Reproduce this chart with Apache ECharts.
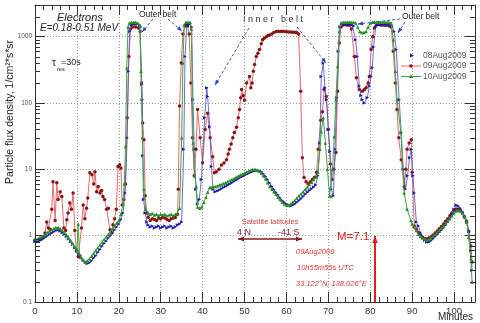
<!DOCTYPE html>
<html><head><meta charset="utf-8">
<script src="https://cdn.jsdelivr.net/npm/echarts@6/dist/echarts.min.js"></script>
<style>html,body{margin:0;padding:0;background:#fff}#c{width:480px;height:323px}</style>
</head><body><div id="c"></div>
<script>
// ---- data: [minutes, flux] ----
const flux08Aug = [[0,0.82],[0.5,0.8],[1,0.84],[1.5,0.86],[2,0.9],[2.5,0.95],[3,1.0],[3.5,1.05],[4,1.1],[4.5,1.15],[5,1.2],[5.5,1.22],[6,1.18],[6.5,1.12],[7,1.05],[7.5,0.98],[8,0.9],[8.5,0.82],[9,0.74],[9.5,0.66],[10,0.58],[10.5,0.52],[11,0.47],[11.5,0.43],[12,0.4],[12.5,0.38],[13,0.39],[13.5,0.42],[14,0.46],[14.5,0.5],[15,0.56],[15.5,0.62],[16,0.69],[16.5,0.76],[17,0.83],[17.5,0.92],[18,1.0],[18.5,1.1],[19,1.22],[19.5,1.35],[20,1.5],[20.5,1.75],[21,2.2],[21.5,4.4],[22,30],[22.3,300],[22.6,1200],[23,1500],[23.5,1550],[24,1550],[24.5,1550],[25,1500],[25.2,1400],[25.5,190],[25.6,112],[25.7,16],[25.9,3.5],[26.3,2.2],[26.7,1.6],[27,1.45],[27.5,1.35],[28,1.4],[28.5,1.3],[29,1.35],[29.5,1.4],[30,1.3],[30.5,1.35],[31,1.4],[31.5,1.3],[32,1.35],[32.5,1.4],[33,1.3],[33.5,1.35],[34,1.45],[34.5,1.5],[35,1.6],[35.5,20],[35.8,500],[36.2,1500],[36.6,1550],[37,1550],[37.4,1400],[37.7,112],[38,20],[38.4,5],[38.8,3],[39.2,3.5],[39.7,7],[40.5,60],[41,170],[41.2,125],[41.7,44],[42.1,11],[42.5,5],[43,4.6],[43.5,4.7],[44,4.9],[44.5,5.1],[45,5.3],[45.5,5.5],[46,5.8],[46.5,6.0],[47,6.3],[47.5,6.6],[48,6.9],[48.5,7.2],[49,7.5],[49.5,7.8],[50,8.1],[50.5,8.4],[51,8.7],[51.5,9.0],[52,9.3],[52.5,9.5],[53,9.6],[53.5,9.5],[54,9.2],[54.5,8.6],[55,7.8],[55.5,7.0],[56,6.2],[56.5,5.5],[57,5.0],[57.5,4.5],[58,4.1],[58.5,3.7],[59,3.4],[59.5,3.2],[60,3.0],[60.5,2.9],[61,2.8],[61.5,2.9],[62,3.0],[62.5,3.2],[63,3.4],[63.5,3.6],[64,3.9],[64.5,4.2],[65,4.5],[65.5,4.8],[66,5.1],[66.5,5.4],[67,5.8],[67.5,8],[68,25],[68.3,250],[68.8,400],[69.2,170],[69.6,112],[70,40],[70.4,18.5],[70.7,5],[71.2,4],[71.6,20],[72,120],[72.4,600],[72.8,1400],[73.2,1550],[73.7,1500],[74.2,1550],[74.7,1500],[75.2,1550],[75.7,1500],[76.1,1450],[76.5,900],[76.9,500],[77.4,180],[77.8,130],[78.1,112],[78.6,100],[79.3,120],[79.8,180],[80.2,250],[80.5,340],[80.8,700],[81.3,1400],[81.7,1500],[82.2,1550],[82.7,1500],[83.2,1550],[83.7,1500],[84.2,1550],[84.7,1500],[85.2,1450],[85.7,1200],[86.2,640],[86.9,112],[87.4,36],[87.9,10],[88.4,5],[88.9,8],[89.4,15],[89.8,20],[90.2,8],[90.5,4.4],[91,1.6],[91.5,1.4],[92,1.1],[92.5,0.95],[93,0.85],[93.5,0.8],[94,0.8],[94.5,0.84],[95,0.9],[95.5,0.97],[96,1.05],[96.5,1.13],[97,1.22],[97.5,1.32],[98,1.45],[98.5,1.6],[99,1.8],[99.5,2.1],[100,2.5],[100.5,2.9],[101,2.8],[101.5,2.6],[102,2.3],[102.5,2.0],[103,1.7],[103.5,1.2],[104,0.6],[104.3,0.3]];

const flux09Aug = [[0,0.85],[0.5,0.83],[1,0.87],[1.5,0.9],[2,0.95],[2.4,1.1],[2.8,1.6],[3.2,1.3],[3.6,1.25],[4,2.5],[4.3,6.5],[4.8,1.7],[5.2,6.3],[5.5,3.5],[6,4.6],[6.4,3.9],[6.9,1.3],[7.3,1.2],[7.6,1.74],[7.9,2.2],[8.3,3.1],[8.7,2.5],[9.1,4.4],[9.5,1.2],[9.9,0.6],[10.3,0.48],[10.7,0.5],[11.1,1.3],[11.5,2.9],[11.9,1.8],[12.3,2.6],[12.6,3.7],[13.1,8.9],[13.6,8.3],[14,6],[14.3,9.2],[14.7,4.6],[15.1,5.5],[15.5,4.4],[15.9,4.8],[16.2,3.9],[16.6,3.5],[17.1,2.5],[17.5,2.6],[17.9,1.23],[18.3,1.1],[18.6,1.46],[19,1.8],[19.4,2.5],[19.8,11],[20.2,11.7],[20.5,10.5],[20.8,2.9],[21.2,3.5],[21.6,6],[22,60],[22.4,500],[22.8,1300],[23.3,1400],[24,1400],[24.7,1350],[25.1,1200],[25.4,200],[25.7,50],[26,28],[26.3,4],[26.7,2.2],[27,1.9],[27.5,1.7],[28,1.8],[28.5,1.75],[29,1.7],[29.5,1.85],[30,1.8],[30.5,1.9],[31,1.85],[31.5,1.75],[32,1.7],[32.5,1.8],[33,1.85],[33.5,1.9],[34,2.1],[34.2,5],[34.5,90],[34.9,400],[35.3,1100],[35.8,1450],[36.4,1450],[36.8,1100],[37.2,200],[37.6,30],[38,8],[38.4,20],[38.8,80],[39.4,30],[40,12.6],[40.6,40],[41.2,70],[41.8,30],[42.4,15.5],[42.8,8.9],[43.3,9.2],[43.9,10],[44.5,11.6],[45.1,12.5],[45.7,14],[46.1,17],[46.4,20],[46.8,24],[47.2,30],[47.6,36],[48.1,43],[48.5,60],[48.8,80],[49.1,120],[49.3,160],[49.7,130],[50,110],[50.5,200],[51.2,250],[51.5,170],[51.8,200],[52.1,300],[52.4,380],[52.8,500],[53.2,560],[53.6,640],[54,780],[54.3,900],[54.7,950],[55.2,1000],[55.6,1040],[56,1060],[56.5,1100],[57,1150],[57.6,1200],[58,1210],[58.5,1200],[59,1210],[59.5,1200],[60,1190],[60.5,1180],[61,1180],[61.5,1170],[62,1160],[62.4,1150],[62.9,1100],[63.4,150],[63.8,15],[64.2,7.5],[64.7,6.5],[65.2,6],[65.7,6.5],[66.2,7],[66.7,7.5],[67.2,9],[67.6,20],[68.2,55],[68.6,74],[69,160],[69.5,125],[70,40],[70.5,12],[70.9,7],[71.3,10],[71.8,18],[72.2,150],[72.6,800],[73,1400],[73.5,1500],[74,1520],[74.5,1500],[75,1480],[75.5,1300],[76.2,500],[76.7,240],[77.4,160],[78.1,150],[78.6,160],[79,170],[79.5,200],[79.8,250],[80.2,640],[80.6,1000],[81,1350],[81.5,1500],[82,1520],[82.5,1500],[83,1500],[83.5,1480],[84,1500],[84.5,1450],[85,1400],[85.5,600],[86,200],[86.4,80],[86.8,30],[87.4,14],[88.1,5.5],[88.5,10],[88.8,20],[89.3,25],[89.8,28],[90,9],[90.5,1.4],[91,1.25],[91.5,1.12],[92,1.02],[92.5,0.95],[93,0.9],[93.5,0.9],[94,0.92],[94.5,0.96],[95,1.02],[95.5,1.1],[96,1.18],[96.5,1.27],[97,1.37],[97.5,1.5],[98,1.65],[98.5,1.8],[99,2.0],[99.5,2.2],[100,2.4],[100.5,2.5],[101,2.5],[101.5,2.4],[102,2.2],[102.5,1.9],[103,1.6],[103.5,1.15],[104,0.7],[104.3,0.4]];

const flux10Aug = [[0,0.9],[0.5,0.88],[1,0.93],[1.5,0.96],[2,1.0],[2.5,1.06],[3,1.12],[3.5,1.18],[4,1.24],[4.5,1.28],[5,1.32],[5.5,1.33],[6,1.28],[6.5,1.2],[7,1.12],[7.5,1.03],[8,0.94],[8.5,0.85],[9,0.77],[9.5,0.68],[10,0.6],[10.3,1.5],[10.6,0.53],[11,0.47],[11.5,0.43],[12,0.4],[12.5,0.42],[13,0.45],[13.5,0.49],[14,0.54],[14.5,0.6],[15,0.66],[15.5,0.73],[16,0.8],[16.5,0.88],[17,0.96],[17.5,1.05],[18,1.15],[18.5,1.27],[19,1.4],[19.5,1.55],[20,1.7],[20.5,2.1],[21,3.0],[21.3,6],[21.6,22],[21.9,340],[22.2,1400],[22.5,1600],[23,1650],[23.5,1650],[24,1650],[24.5,1600],[25,1500],[25.3,300],[25.6,30],[26,5],[26.4,2.5],[27,2.2],[27.5,2.1],[28,2.15],[28.5,2.05],[29,2.1],[29.5,2.0],[30,2.1],[30.5,2.05],[31,2.1],[31.5,2.0],[32,2.05],[32.5,2.1],[33,2.0],[33.5,2.1],[34,2.2],[34.5,2.6],[35,30],[35.3,400],[35.6,1500],[36,1650],[36.5,1650],[37,1650],[37.3,1300],[37.7,25],[38.1,8],[38.5,5.5],[38.8,2.7],[39.3,2.6],[39.8,2.7],[40.3,3.2],[40.8,3.8],[41.2,4.5],[41.7,5.3],[42,5.3],[42.5,5.4],[43,5.5],[43.5,5.6],[44,5.8],[44.5,5.9],[45,6.1],[45.5,6.3],[46,6.5],[46.5,6.8],[47,7.0],[47.5,7.3],[48,7.6],[48.5,7.9],[49,8.2],[49.5,8.5],[50,8.8],[50.5,9.1],[51,9.4],[51.5,9.7],[52,9.9],[52.5,10.0],[53,9.8],[53.5,9.4],[54,8.8],[54.5,8.0],[55,7.2],[55.5,6.3],[56,5.5],[56.5,5.0],[57,4.6],[57.5,4.2],[58,3.8],[58.5,3.5],[59,3.2],[59.5,3.0],[60,2.9],[60.5,2.9],[61,3.0],[61.5,3.2],[62,3.4],[62.5,3.7],[63,4.0],[63.5,4.3],[64,4.6],[64.5,5.0],[65,5.4],[65.5,5.9],[66,6.4],[66.5,7.0],[67,7.6],[67.5,9],[68,20],[68.3,37],[68.8,60],[69.3,25],[69.8,10],[70.3,4],[70.6,3.9],[71,10],[71.4,31],[71.8,112],[72.2,355],[72.6,1200],[73,1600],[73.5,1650],[74,1650],[74.5,1650],[75,1650],[75.5,1650],[76,1650],[76.5,1600],[77,1400],[77.5,1200],[78,1150],[78.5,1150],[79,1200],[79.5,1400],[80,1600],[80.5,1650],[81,1650],[81.5,1650],[82,1650],[82.5,1650],[83,1650],[83.5,1650],[84,1650],[84.5,1650],[85,1600],[85.5,900],[86,300],[86.4,112],[87.3,36],[88.1,4.4],[88.8,2.5],[89.7,1.7],[90,1.5],[90.5,1.35],[91,1.2],[91.5,1.05],[92,0.97],[92.5,0.92],[93,0.88],[93.5,0.86],[94,0.88],[94.5,0.92],[95,0.98],[95.5,1.05],[96,1.12],[96.5,1.2],[97,1.3],[97.5,1.4],[98,1.52],[98.5,1.65],[99,1.8],[99.5,2.0],[100,2.2],[100.5,2.35],[101,2.4],[101.5,2.35],[102,2.2],[102.5,1.95],[103,1.6],[103.5,0.95],[104,0.45],[104.3,0.2]];

const seriesNames = ['08Aug2009', '09Aug2009', '10Aug2009'];
const xTicksMajor = [0,10,20,30,40,50,60,70,80,90,100];
const yTicksMajor = [0.1, 1, 10, 100, 1000];

// ---- styles ----
const FONT = 'Liberation Sans, Arial, sans-serif';
const C_BLUE = '#1c1ca8', C_BLUE_L = '#4646c8';
const C_RED = '#8b1414', C_RED_L = '#e66a6a';
const C_GREEN = '#2a8c2a', C_GREEN_L = '#3ca83c';
const AX = '#333';

// minor tick positions (axis decoration)
const yMinor = [];
yTicksMajor.forEach(d => { for (let k = 2; k <= 9; k++) { const v = k * d; if (v <= 3000) yMinor.push([0, v]); } });
const xMinor = [];
for (let t = 2; t <= 104; t += 2) if (t % 10 !== 0) xMinor.push([t, 1]);

const chart = echarts.init(document.getElementById('c'), null, { renderer: 'canvas' });

function arrow(x1, y1, x2, y2, color, width, dash, head, both) {
  const els = [{ type: 'line', silent: true, z: 100,
    shape: { x1, y1, x2, y2 },
    style: { stroke: color, lineWidth: width, lineDash: dash || null } }];
  function headAt(ax, ay, bx, by) {
    const dx = bx - ax, dy = by - ay, L = Math.hypot(dx, dy);
    const ux = dx / L, uy = dy / L, nx = -uy, ny = ux;
    const baseX = bx - ux * head, baseY = by - uy * head;
    els.push({ type: 'polygon', silent: true, z: 101,
      shape: { points: [[bx, by], [baseX + nx * head * 0.4, baseY + ny * head * 0.4], [baseX - nx * head * 0.4, baseY - ny * head * 0.4]] },
      style: { fill: color } });
  }
  headAt(x1, y1, x2, y2);
  if (both) headAt(x2, y2, x1, y1);
  return els;
}
function txt(x, y, text, size, color, extra) {
  return Object.assign({ type: 'text', silent: true, z: 100, x, y,
    style: Object.assign({ text, fontSize: size, fill: color, fontFamily: FONT, verticalAlign: 'middle', align: 'left' }, (extra || {})) });
}

const graphics = [].concat(
  [txt(10, 112, 'Particle flux density, 1/cm²*s*sr', 10.5, '#222', { align: 'center' })].map(g => Object.assign(g, { rotation: Math.PI / 2 })),
  [
    txt(57, 18, 'Electrons', 11, '#222', { fontStyle: 'italic' }),
    txt(40, 28, 'E=0.18-0.51 MeV', 10, '#222', { fontStyle: 'italic' }),
    txt(52, 63, 'τ', 10, '#222'),
    txt(57, 69, 'res', 5.5, '#222'),
    txt(61, 63, '=30s', 9, '#222'),
    txt(139, 15, 'Outer belt', 8.5, '#222'),
    txt(243, 20, 'I n n e r   b e l t', 9, '#333'),
    txt(402, 17, 'Outer belt', 8.5, '#222'),
    txt(270, 222, 'Satellite latitudes', 7.5, '#d04040', { align: 'center' }),
    txt(237, 233, '4 N', 9, '#8b2020'),
    txt(278, 233, '-41 S', 9, '#8b2020'),
    txt(337, 237, 'M=7.1', 11.5, '#e02020'),
    txt(296, 252, '09Aug2009', 7.5, '#e03030', { fontStyle: 'italic' }),
    txt(297, 268, '10h55m55s UTC', 7.5, '#e03030', { fontStyle: 'italic' }),
    txt(296, 284, '33.122°N, 138.026°E', 7.5, '#e03030', { fontStyle: 'italic' }),
    txt(473, 317, 'Minutes', 10, '#222', { align: 'right' }),
    // legend
    txt(423, 55.5, seriesNames[0], 8.5, '#555'),
    txt(423, 66, seriesNames[1], 8.5, '#555'),
    txt(423, 76.5, seriesNames[2], 8.5, '#555'),
    { type: 'polygon', silent: true, z: 100, shape: { points: [[410, 53.5], [414, 55.5], [410, 57.5]] }, style: { fill: C_BLUE } },
    { type: 'line', silent: true, z: 100, shape: { x1: 401, y1: 66, x2: 421, y2: 66 }, style: { stroke: C_RED_L, lineWidth: 1 } },
    { type: 'circle', silent: true, z: 101, shape: { cx: 411, cy: 66, r: 1.8 }, style: { fill: C_RED } },
    { type: 'line', silent: true, z: 100, shape: { x1: 401, y1: 76.5, x2: 421, y2: 76.5 }, style: { stroke: C_GREEN_L, lineWidth: 1 } },
    { type: 'polygon', silent: true, z: 101, shape: { points: [[411, 74.5], [413, 78], [409, 78]] }, style: { fill: C_GREEN } }
  ],
  arrow(153, 19, 142, 32, '#2a3fb8', 0.9, [3, 2], 5),
  arrow(168, 19, 182, 31, '#2a3fb8', 0.9, [3, 2], 5),
  arrow(249, 28, 215, 85, '#2a3fb8', 0.9, [3, 2], 5),
  arrow(297, 27, 326, 63, '#2a3fb8', 0.9, [3, 2], 5),
  arrow(400, 19, 358, 24, '#2a3fb8', 0.9, [3, 2], 5),
  arrow(405, 22, 398, 33, '#2a3fb8', 0.9, [3, 2], 5),
  arrow(238, 239, 302, 239, '#8b1a1a', 1.5, null, 6, true),
  arrow(375, 302, 375, 236, '#e02020', 2, null, 7)
);

const lineBase = { type: 'line', showSymbol: true, animation: false, symbolSize: 3.5, clip: true };

chart.setOption({
  animation: false,
  backgroundColor: '#fff',
  grid: { left: 35, right: 5, top: 5, bottom: 21, containLabel: false },
  xAxis: [
    { type: 'value', min: 0, max: 105, interval: 10, position: 'bottom',
      axisLine: { show: true, onZero: false, lineStyle: { color: AX, width: 1 } },
      axisTick: { show: true, inside: true, length: 10, lineStyle: { color: AX } },
      axisLabel: { show: true, fontSize: 9.5, color: '#333', fontFamily: FONT, margin: 4, showMaxLabel: false,
        formatter: v => (v % 10 === 0 ? String(v) : '') },
      splitLine: { show: true, lineStyle: { color: '#999', type: [1, 2], width: 1 } } },
    { type: 'value', min: 0, max: 105, interval: 10, position: 'top',
      axisLine: { show: true, onZero: false, lineStyle: { color: AX, width: 1 } },
      axisTick: { show: true, inside: true, length: 10, lineStyle: { color: AX } },
      axisLabel: { show: false }, splitLine: { show: false } }
  ],
  yAxis: [
    { type: 'log', logBase: 10, min: 0.1, max: 3000, position: 'left',
      axisLine: { show: true, onZero: false, lineStyle: { color: AX, width: 1 } },
      axisTick: { show: true, inside: true, length: 10, lineStyle: { color: AX } },
      axisLabel: { show: true, fontSize: 6.5, color: '#555', fontFamily: FONT, margin: 3, showMaxLabel: false,
        formatter: v => { const l = Math.log10(v); return Math.abs(l - Math.round(l)) < 1e-6 ? String(+v.toPrecision(3)) : ''; } },
      splitLine: { show: true, lineStyle: { color: '#999', type: [1, 2], width: 1 } } },
    { type: 'log', logBase: 10, min: 0.1, max: 3000, position: 'right',
      axisLine: { show: true, onZero: false, lineStyle: { color: AX, width: 1 } },
      axisTick: { show: true, inside: true, length: 10, lineStyle: { color: AX } },
      axisLabel: { show: false }, splitLine: { show: false } }
  ],
  series: [
    { type: 'custom', name: 'yminor', silent: true, xAxisIndex: 0, yAxisIndex: 0, data: yMinor, z: 10,
      renderItem(params, api) {
        const cs = params.coordSys; const y = Math.round(api.coord([0, api.value(1)])[1]) + 0.5;
        return { type: 'group', children: [
          { type: 'line', shape: { x1: cs.x, y1: y, x2: cs.x + 5, y2: y }, style: { stroke: AX, lineWidth: 1 } },
          { type: 'line', shape: { x1: cs.x + cs.width, y1: y, x2: cs.x + cs.width - 5, y2: y }, style: { stroke: AX, lineWidth: 1 } } ] };
      } },
    { type: 'custom', name: 'xminor', silent: true, xAxisIndex: 0, yAxisIndex: 0, data: xMinor, z: 10,
      renderItem(params, api) {
        const cs = params.coordSys; const x = Math.round(api.coord([api.value(0), 1])[0]) + 0.5;
        return { type: 'group', children: [
          { type: 'line', shape: { x1: x, y1: cs.y + cs.height, x2: x, y2: cs.y + cs.height - 5 }, style: { stroke: AX, lineWidth: 1 } },
          { type: 'line', shape: { x1: x, y1: cs.y, x2: x, y2: cs.y + 5 }, style: { stroke: AX, lineWidth: 1 } } ] };
      } },
    Object.assign({}, lineBase, { name: seriesNames[1], data: flux09Aug, z: 3,
      symbol: 'circle', symbolSize: 3.5,
      itemStyle: { color: C_RED }, lineStyle: { color: C_RED_L, width: 1 } }),
    Object.assign({}, lineBase, { name: seriesNames[0], data: flux08Aug, z: 4,
      symbol: 'triangle', symbolRotate: -90, symbolSize: 3.5,
      itemStyle: { color: C_BLUE }, lineStyle: { color: C_BLUE_L, width: 0.8 } }),
    Object.assign({}, lineBase, { name: seriesNames[2], data: flux10Aug, z: 5,
      symbol: 'triangle', symbolSize: 3.5,
      itemStyle: { color: C_GREEN }, lineStyle: { color: C_GREEN_L, width: 1 } })
  ],
  graphic: graphics
});
</script>
</body></html>
